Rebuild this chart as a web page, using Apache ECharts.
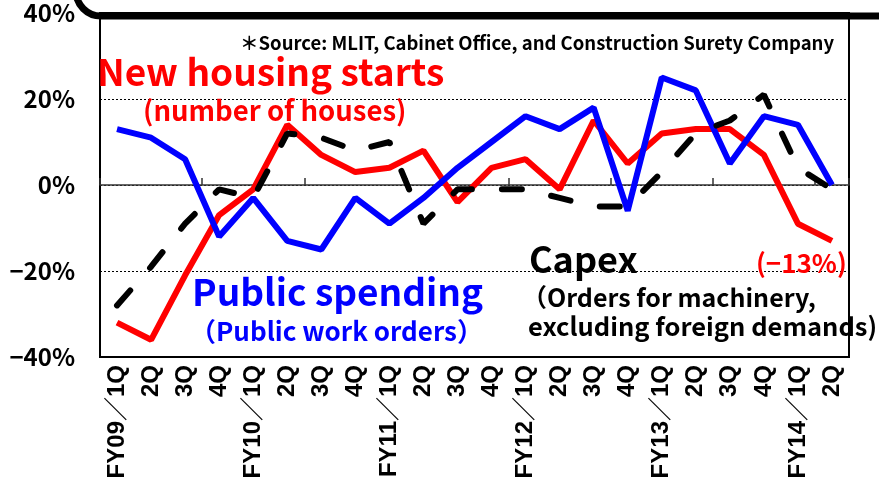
<!DOCTYPE html>
<html>
<head>
<meta charset="utf-8">
<script src="https://cdn.jsdelivr.net/npm/echarts@6/dist/echarts.min.js"></script>
<style>
  html, body { margin: 0; padding: 0; background: #fff; }
  #chart { width: 879px; height: 482px; }
</style>
</head>
<body>
<div id="chart"></div>
<script>
// Quarters (fiscal year / quarter)
var quarters = ['FY09／1Q', '2Q', '3Q', '4Q', 'FY10／1Q', '2Q', '3Q', '4Q',
  'FY11／1Q', '2Q', '3Q', '4Q', 'FY12／1Q', '2Q', '3Q', '4Q',
  'FY13／1Q', '2Q', '3Q', '4Q', 'FY14／1Q', '2Q'];

// y/y change, %
var housingStarts = [-32, -36, -21, -7, -1, 14, 7, 3, 4, 8, -4, 4, 6, -1, 15, 5, 12, 13, 13, 7, -9, -13];
var publicSpending = [13, 11, 6, -12, -3, -13, -15, -3, -9, -3, 4, 10, 16, 13, 18, -6, 25, 22, 5, 16, 14, 0];
var capex = [-28, -19, -9, -1, -3, 12, 11, 8, 10, -9, -1, -1, -1, -3, -5, -5, 3, 12, 15, 21, 4, -1];

var yTicks = [-40, -20, 0, 20, 40];

var jp = '"Noto Sans CJK JP", "Noto Sans", sans-serif';

var chart = echarts.init(document.getElementById('chart'));

var option = {
  animation: false,
  backgroundColor: '#fff',
  grid: {
    left: 100,
    right: 30,
    top: 13,
    height: 344,
    containLabel: false,
    outerBoundsMode: 'none',
    show: true,
    borderColor: '#000',
    borderWidth: 2
  },
  xAxis: [
    {
      type: 'category',
      data: quarters,
      position: 'bottom',
      axisLine: { show: false, onZero: false },
      axisTick: { show: false },
      axisLabel: {
        interval: 0,
        rotate: 90,
        margin: 8,
        color: '#000',
        fontSize: 24,
        fontWeight: 'bold',
        fontFamily: '"Liberation Sans", Arial, "Noto Sans CJK JP", sans-serif'
      },
      splitLine: { show: false }
    },
    {
      // the 0% line with its small upward ticks
      type: 'category',
      data: quarters,
      position: 'top',
      offset: -172,
      axisLine: { show: true, onZero: false, lineStyle: { color: '#333', width: 1.5 } },
      axisTick: { show: true, inside: false, length: 7, lineStyle: { color: '#333', width: 1.5 } },
      axisLabel: { show: false },
      splitLine: { show: false }
    }
  ],
  yAxis: {
    type: 'value',
    min: yTicks[0],
    max: yTicks[yTicks.length - 1],
    interval: 20,
    axisLine: { show: false },
    axisTick: { show: false },
    axisLabel: {
      margin: 25,
      color: '#000',
      fontSize: 24,
      fontWeight: 'bold',
      fontFamily: jp,
      formatter: function (v) {
        return (v < 0 ? '−' + Math.abs(v) : v) + '%';
      }
    },
    splitLine: {
      show: true,
      lineStyle: { color: '#000', width: 1, type: [2, 2] }
    }
  },
  series: [
    {
      name: 'New housing starts',
      type: 'line',
      data: housingStarts,
      symbol: 'none',
      lineStyle: { color: '#ff0000', width: 6 },
      z: 2
    },
    {
      name: 'Public spending',
      type: 'line',
      data: publicSpending,
      symbol: 'none',
      lineStyle: { color: '#0000ff', width: 6 },
      z: 3
    },
    {
      name: 'Capex',
      type: 'line',
      data: capex,
      symbol: 'none',
      lineStyle: { color: '#000', width: 6, type: [20, 30], cap: 'round' },
      z: 4
    }
  ],
  graphic: [
    // frame piece across the top with rounded left corner
    {
      type: 'rect',
      shape: { x: 76, y: -60, width: 900, height: 76, r: 25 },
      style: { fill: 'none', stroke: '#000', lineWidth: 7 },
      z: 100
    },
    {
      type: 'text',
      style: { text: '＊Source: MLIT, Cabinet Office, and Construction Surety Company', x: 240, y: 43,
        textVerticalAlign: 'middle', font: 'bold 18.5px ' + jp, fill: '#000' },
      z: 100
    },
    {
      type: 'text',
      style: { text: 'New housing starts', x: 97, y: 72, textVerticalAlign: 'middle',
        font: 'bold 37px ' + jp, fill: '#ff0000' },
      z: 100
    },
    {
      type: 'text',
      style: { text: '(number of houses)', x: 143, y: 111, textVerticalAlign: 'middle',
        font: 'bold 27.5px ' + jp, fill: '#ff0000' },
      z: 100
    },
    {
      type: 'text',
      style: { text: 'Public spending', x: 192, y: 292, textVerticalAlign: 'middle',
        font: 'bold 37px ' + jp, fill: '#0000ff' },
      z: 100
    },
    {
      type: 'text',
      style: { text: '（Public work orders）', x: 190, y: 331, textVerticalAlign: 'middle',
        font: 'bold 26px ' + jp, fill: '#0000ff' },
      z: 100
    },
    {
      type: 'text',
      style: { text: 'Capex', x: 529, y: 259, textVerticalAlign: 'middle',
        font: 'bold 36px ' + jp, fill: '#000' },
      z: 100
    },
    {
      type: 'text',
      style: { text: '（Orders for machinery,', x: 522, y: 297, textVerticalAlign: 'middle',
        font: 'bold 25px ' + jp, fill: '#000' },
      z: 100
    },
    {
      type: 'text',
      style: { text: 'excluding foreign demands)', x: 528, y: 326, textVerticalAlign: 'middle',
        font: 'bold 25.5px ' + jp, fill: '#000' },
      z: 100
    },
    {
      type: 'text',
      style: { text: '(−13%)', x: 756, y: 263, textVerticalAlign: 'middle',
        font: 'bold 26px ' + jp, fill: '#ff0000' },
      z: 100
    }
  ]
};

chart.setOption(option);
</script>
</body>
</html>
